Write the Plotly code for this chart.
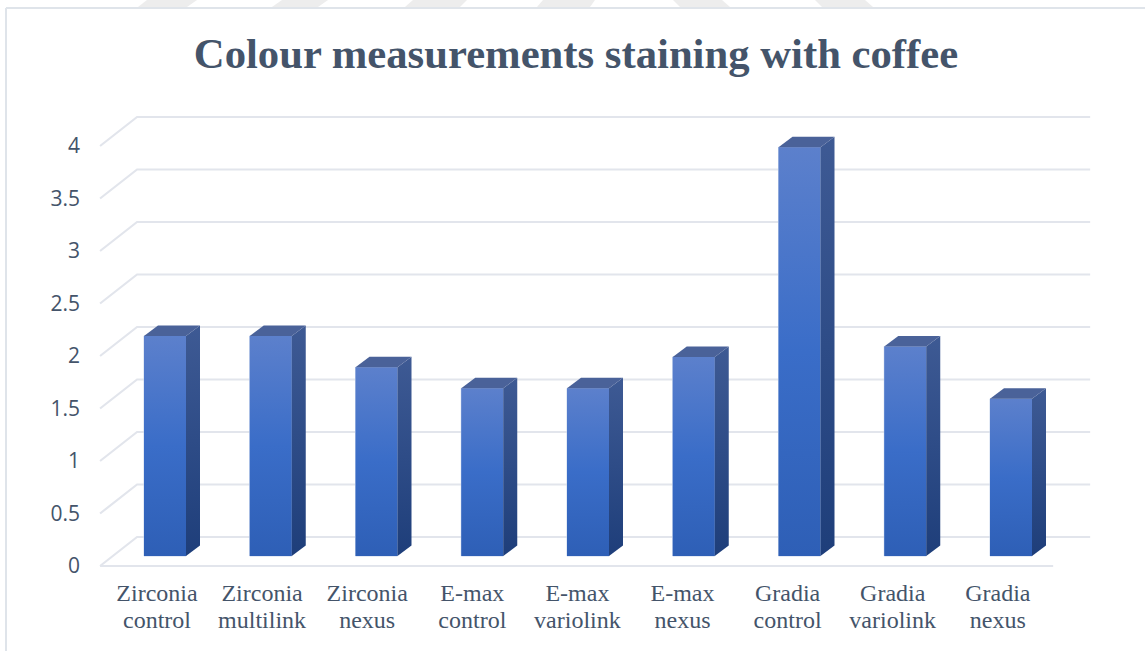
import plotly.graph_objects as go

# Chart content
label_line1 = ["Zirconia", "Zirconia", "Zirconia", "E-max", "E-max", "E-max", "Gradia", "Gradia", "Gradia"]
label_line2 = ["control", "multilink", "nexus", "control", "variolink", "nexus", "control", "variolink", "nexus"]
values = [2.1, 2.1, 1.8, 1.6, 1.6, 1.9, 3.9, 2.0, 1.5]
y_ticks = [0, 0.5, 1, 1.5, 2, 2.5, 3, 3.5, 4]
y_tick_labels = ["0", "0.5", "1", "1.5", "2", "2.5", "3", "3.5", "4"]
title_text = "Colour measurements staining with coffee"

# Canvas and the pseudo-3D projection, in pixels
W, H = 1145, 651
FLOOR_X0, CAT_STEP = 153.0, 105.9      # front plane: first category centre, spacing
FLOOR_Y0, UNIT_PX = 566.0, 105.0       # front plane: value 0, pixels per unit
BAR_X0, BAR_STEP = 165.0, 105.75       # bar plane
BAR_Y0, BAR_UNIT = 556.0, 104.8
LABEL_X0, LABEL_STEP = 157.0, 105.1    # category label centres
LINE1_Y, LINE2_Y = 576.0, 603.0        # axis positions of the two label lines
BAR_WIDTH = 42 / BAR_STEP
BAR_DX, BAR_DY = 14 / BAR_STEP, 10.5 / BAR_UNIT   # depth of each column
WALL_DX, WALL_DY = 37 / CAT_STEP, 29 / UNIT_PX    # depth of the back wall

GRID = "#e2e5ec"
TEXT = "#44546a"
FRONT_SCALE = [[0, "#2e5fb6"], [0.5, "#3a6dc8"], [1, "#5c80cc"]]
SIDE_SCALE = [[0, "#1e3e7a"], [1, "#3e5a94"]]
TOP_FILL = "#4a6299"

fig = go.Figure()

# Floor and back-wall gridlines sit on the lower subplot, behind the columns
last = len(values) - 0.5
for v in y_ticks:
    fig.add_trace(go.Scatter(
        x=[-0.5, -0.5 + WALL_DX, last + WALL_DX],
        y=[v, v + WALL_DY, v + WALL_DY],
        mode="lines", line=dict(color=GRID, width=2.2),
        hoverinfo="skip", showlegend=False,
    ))
fig.add_trace(go.Scatter(
    x=[-0.5, last], y=[0, 0], mode="lines",
    line=dict(color=GRID, width=2.2), hoverinfo="skip", showlegend=False,
))

# Column fronts
names = [f"{a} {b}" for a, b in zip(label_line1, label_line2)]
fig.add_trace(go.Bar(
    x=list(range(len(values))), y=values, width=BAR_WIDTH,
    marker=dict(color="#3a6dc8", line=dict(color="#c9d6ec", width=1)),
    xaxis="x2", yaxis="y2", showlegend=False,
    customdata=names, hovertemplate="%{customdata}: %{y}<extra></extra>",
))

# Gradient faces of each column
for i, v in enumerate(values):
    left, right = i - BAR_WIDTH / 2, i + BAR_WIDTH / 2
    fig.add_trace(go.Scatter(
        x=[left, right, right, left, left], y=[0, 0, v, v, 0],
        mode="lines", fill="toself", line=dict(width=0),
        fillgradient=dict(type="vertical", colorscale=FRONT_SCALE, start=0, stop=v),
        xaxis="x2", yaxis="y2", hoverinfo="skip", showlegend=False,
    ))
    fig.add_trace(go.Scatter(
        x=[right, right + BAR_DX, right + BAR_DX, right, right],
        y=[0, BAR_DY, v + BAR_DY, v, 0],
        mode="lines", fill="toself", line=dict(width=0),
        fillgradient=dict(type="vertical", colorscale=SIDE_SCALE, start=0, stop=v + BAR_DY),
        xaxis="x2", yaxis="y2", hoverinfo="skip", showlegend=False,
    ))
    fig.add_trace(go.Scatter(
        x=[left, right, right + BAR_DX, left + BAR_DX, left],
        y=[v, v, v + BAR_DY, v + BAR_DY, v],
        mode="lines", fill="toself", line=dict(width=0), fillcolor=TOP_FILL,
        xaxis="x2", yaxis="y2", hoverinfo="skip", showlegend=False,
    ))

# The two lines of each category label hang off their own axes, for tight leading
for axis in ("x3", "x4"):
    fig.add_trace(go.Scatter(x=[0], y=[0], mode="lines", line=dict(width=0),
                             xaxis=axis, yaxis="y", hoverinfo="skip", showlegend=False))


def band(x_top0, x_top1, x_bot0, x_bot1, bottom=7):
    """Grey slanted band along the top edge of the page."""
    px = lambda x: f"{x / W:.5f}"
    py = lambda y: f"{1 - y / H:.5f}"
    path = (f"M{px(x_top0)},{py(0)} L{px(x_top1)},{py(0)} "
            f"L{px(x_bot1)},{py(bottom)} L{px(x_bot0)},{py(bottom)} Z")
    return dict(type="path", xref="paper", yref="paper", path=path,
                fillcolor="#ededed", line=dict(width=0), layer="below")


def label_axis(ticktext, pixel_y):
    return dict(
        overlaying="x", anchor="free", position=(H - pixel_y) / H,
        range=[-LABEL_X0 / LABEL_STEP, (W - LABEL_X0) / LABEL_STEP],
        tickmode="array", tickvals=list(range(len(ticktext))), ticktext=ticktext,
        tickfont=dict(family="Liberation Serif", size=24, color=TEXT),
        showgrid=False, zeroline=False, showline=False, ticks="", ticklabelstandoff=0,
    )


shapes = [
    band(147, 197, 138, 187), band(282, 328, 272, 318), band(413, 467, 405, 460),
    band(543, 595, 537, 590), band(673, 722, 680, 730), band(815, 865, 822, 873),
    # Chart frame
    dict(type="line", xref="paper", yref="paper", x0=6 / W, x1=1,
         y0=1 - 8 / H, y1=1 - 8 / H, line=dict(color="#dfe4ea", width=2)),
    dict(type="line", xref="paper", yref="paper", x0=6 / W, x1=6 / W,
         y0=0, y1=1 - 8 / H, line=dict(color="#dfe4ea", width=2)),
]

fig.update_layout(
    width=W, height=H, margin=dict(l=0, r=0, t=0, b=0),
    paper_bgcolor="white", plot_bgcolor="rgba(0,0,0,0)",
    showlegend=False, shapes=shapes,
    title=dict(text=title_text, x=576 / W, xanchor="center", y=1 - 53 / H, yanchor="middle",
               font=dict(family="Liberation Serif", size=42.7, color=TEXT, weight="bold")),
    xaxis=dict(
        domain=[0, 1], range=[-FLOOR_X0 / CAT_STEP, (W - FLOOR_X0) / CAT_STEP],
        showticklabels=False, showgrid=False, zeroline=False, showline=False, ticks="",
    ),
    yaxis=dict(
        domain=[0, 1], range=[(FLOOR_Y0 - H) / UNIT_PX, FLOOR_Y0 / UNIT_PX],
        anchor="free", position=100 / W,
        tickmode="array", tickvals=y_ticks, ticktext=y_tick_labels,
        tickfont=dict(family="Open Sans", size=21, color=TEXT),
        showgrid=False, zeroline=False, showline=False, ticks="", ticklabelstandoff=20,
    ),
    xaxis2=dict(
        overlaying="x", visible=False,
        range=[-BAR_X0 / BAR_STEP, (W - BAR_X0) / BAR_STEP],
    ),
    yaxis2=dict(
        overlaying="y", visible=False,
        range=[(BAR_Y0 - H) / BAR_UNIT, BAR_Y0 / BAR_UNIT],
    ),
    xaxis3=label_axis(label_line1, LINE1_Y),
    xaxis4=label_axis(label_line2, LINE2_Y),
)

fig.write_html("out.html")
